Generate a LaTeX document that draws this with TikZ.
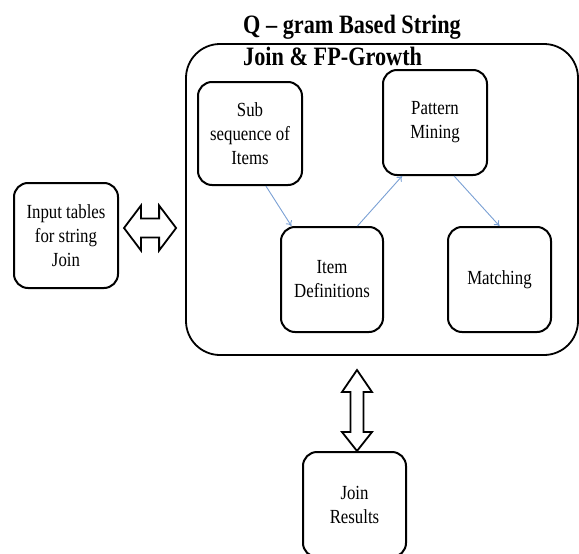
\documentclass[tikz,border=0pt]{standalone}
\usepackage{fontspec}
\setmainfont{Liberation Serif}[FakeStretch=0.84]
\usetikzlibrary{calc,arrows.meta}
\definecolor{arrowblue}{RGB}{122,160,212}
\tikzset{
  box/.style={draw=black, line width=2pt, rounded corners=14pt, align=center,
    inner sep=2pt, font=\fontsize{20}{24}\selectfont},
  bigbox/.style={draw=black, line width=1.8pt, rounded corners=34pt},
  flow/.style={draw=arrowblue, line width=0.9pt, -{To[length=5pt,width=7pt]}},
  bigarrow/.style={draw=black, line width=1.8pt, fill=white, line join=miter},
  titletext/.style={anchor=base west, inner sep=0pt, font=\fontsize{26.5}{32}\selectfont\bfseries}
}
\begin{document}
\begin{tikzpicture}[x=1pt,y=-1pt]
\useasboundingbox (0,0) rectangle (579,554);
\clip (0,0) rectangle (579,554);
% big container
\node[bigbox, minimum width=392pt, minimum height=311pt] (big) at (382,199.5) {};
% title
\node[titletext] (t1) at (243,33) {Q – gram Based String};
\node[titletext] (t2) at (243,65) {Join \& FP-Growth};
% inner boxes
\node[box, minimum width=104pt, minimum height=103pt] (sub) at (250,133.5) {Sub\\sequence of\\Items};
\node[box, minimum width=104pt, minimum height=105pt] (pat) at (435,122.5) {Pattern\\Mining};
\node[box, minimum width=102pt, minimum height=105pt] (item) at (332,279.5) {Item\\Definitions};
\node[box, minimum width=103pt, minimum height=105pt] (match) at (499.5,279.5) {Matching};
% outer boxes
\node[box, minimum width=104pt, minimum height=105pt] (inp) at (66,235.5) {Input tables\\for string\\Join};
\node[box, minimum width=103pt, minimum height=105pt] (res) at (354.5,504.5) {Join\\Results};
% flow arrows
\draw[flow] ($(sub.south west)!0.65!(sub.south east)$) -- ($(item.north west)!0.11!(item.north east)$);
\draw[flow] ($(item.north west)!0.745!(item.north east)$) -- ($(pat.south west)!0.19!(pat.south east)$);
\draw[flow] ($(pat.south west)!0.68!(pat.south east)$) -- (match.north);
% horizontal double arrow
\coordinate (hl) at ($(inp.east)+(5,-7.5)$);
\coordinate (hr) at ($(big.west)+(-9,28.5)$);
\draw[bigarrow] (hl) -- ($(hl)+(17,-22.5)$) -- ($(hl)+(17,-9.5)$) -- ($(hr)+(-17,-9.5)$)
  -- ($(hr)+(-17,-22.5)$) -- (hr) -- ($(hr)+(-17,22.5)$) -- ($(hr)+(-17,9.5)$)
  -- ($(hl)+(17,9.5)$) -- ($(hl)+(17,22.5)$) -- cycle;
% vertical double arrow
\coordinate (vt) at (357,370);
\coordinate (vb) at ($(res.north)+(2.5,0)$);
\draw[bigarrow] (vt) -- ($(vt)+(15,22)$) -- ($(vt)+(6.5,22)$) -- ($(vb)+(6.5,-19)$)
  -- ($(vb)+(15,-19)$) -- (vb) -- ($(vb)+(-15,-19)$) -- ($(vb)+(-6.5,-19)$)
  -- ($(vt)+(-6.5,22)$) -- ($(vt)+(-15,22)$) -- cycle;
\end{tikzpicture}
\end{document}
